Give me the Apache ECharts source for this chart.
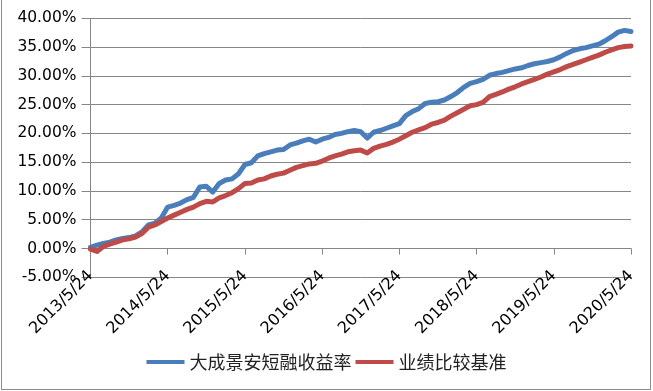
<!DOCTYPE html>
<html>
<head>
<meta charset="utf-8">
<script src="https://cdn.jsdelivr.net/npm/echarts@6/dist/echarts.min.js"></script>
<style>
html,body{margin:0;padding:0;background:#fff;}
#chart{position:absolute;left:0;top:0;width:653px;height:391px;}
#frame{position:absolute;left:1px;top:-1px;width:650px;height:391px;border:1px solid #8c8c8c;pointer-events:none;box-sizing:border-box;}
</style>
</head>
<body>
<div id="chart"></div>
<div id="frame"></div>
<script>
// Monthly sample dates from 2013/5/24 to 2020/5/24
const startYear = 2013, startMonth = 5, day = 24, monthCount = 85;
const categories = [];
for (let i = 0; i < monthCount; i++) {
  const m0 = startMonth - 1 + i;
  categories.push((startYear + Math.floor(m0 / 12)) + '/' + (m0 % 12 + 1) + '/' + day);
}

const seriesNames = ['大成景安短融收益率', '业绩比较基准'];

// 大成景安短融收益率 (%)
const fundReturn = [
  0.2, 0.6, 0.9, 1.1, 1.5, 1.75, 1.9, 2.2, 2.9, 4.1, 4.4, 5.3,
  7.2, 7.5, 7.9, 8.5, 8.9, 10.7, 10.8, 9.8, 11.3, 11.9, 12.1, 13.0,
  14.6, 14.9, 16.1, 16.5, 16.8, 17.1, 17.2, 18.0, 18.3, 18.7, 19.0, 18.5,
  19.0, 19.3, 19.8, 20.0, 20.3, 20.5, 20.3, 19.2, 20.2, 20.5, 20.9, 21.3,
  21.7, 23.1, 23.8, 24.3, 25.2, 25.4, 25.5, 25.8, 26.4, 27.1, 28.0, 28.7,
  29.0, 29.4, 30.1, 30.4, 30.6, 30.9, 31.2, 31.4, 31.8, 32.1, 32.3, 32.5,
  32.8, 33.3, 33.9, 34.4, 34.7, 34.9, 35.2, 35.5, 36.1, 36.8, 37.6, 37.9,
  37.7
];

// 业绩比较基准 (%)
const benchmark = [
  -0.1, -0.5, 0.35, 0.75, 1.1, 1.5, 1.7, 2.0, 2.6, 3.7, 4.1, 4.7,
  5.3, 5.8, 6.3, 6.8, 7.2, 7.8, 8.2, 8.1, 8.8, 9.2, 9.7, 10.4,
  11.3, 11.4, 11.9, 12.1, 12.6, 12.9, 13.1, 13.6, 14.1, 14.4, 14.7, 14.8,
  15.2, 15.7, 16.1, 16.4, 16.8, 17.0, 17.1, 16.6, 17.4, 17.8, 18.1, 18.5,
  19.0, 19.6, 20.2, 20.6, 21.0, 21.6, 21.9, 22.3, 23.0, 23.6, 24.2, 24.8,
  25.0, 25.4, 26.4, 26.8, 27.2, 27.7, 28.1, 28.6, 29.0, 29.4, 29.8, 30.3,
  30.7, 31.1, 31.6, 32.0, 32.4, 32.8, 33.2, 33.6, 34.1, 34.5, 34.9, 35.1,
  35.2
];

const yMin = -5, yMax = 40, yStep = 5;
const labelEvery = 12;

const chart = echarts.init(document.getElementById('chart'), null, {renderer: 'canvas'});
const axisGray = '#868686';
const font = 'DejaVu Sans';

chart.setOption({
  animation: false,
  backgroundColor: '#fff',
  color: ['#4A7EBB', '#BE4B48'],
  grid: {left: 90.5, right: 22, top: 18.3, bottom: 113.7, containLabel: false},
  legend: {
    data: seriesNames,
    bottom: 15,
    left: 'center',
    icon: 'rect',
    itemWidth: 38,
    itemHeight: 4,
    itemGap: 4,
    textStyle: {fontFamily: 'Noto Sans CJK SC', fontSize: 18, color: '#222'}
  },
  xAxis: [
    {
      type: 'category',
      data: categories,
      boundaryGap: false,
      position: 'bottom',
      axisLine: {show: true, onZero: true, lineStyle: {color: axisGray, width: 1}},
      axisTick: {show: true, inside: false, length: 6, interval: labelEvery - 1, lineStyle: {color: axisGray}},
      axisLabel: {show: false},
      splitLine: {show: false}
    },
    {
      type: 'category',
      data: categories,
      boundaryGap: false,
      position: 'bottom',
      axisLine: {show: false, onZero: false},
      axisTick: {show: false},
      axisLabel: {
        show: true,
        interval: labelEvery - 1,
        rotate: 45,
        margin: -4,
        fontFamily: font,
        fontSize: 16,
        color: '#000'
      },
      splitLine: {show: false}
    }
  ],
  yAxis: {
    type: 'value',
    min: yMin,
    max: yMax,
    interval: yStep,
    axisLine: {show: true, lineStyle: {color: axisGray, width: 1}},
    axisTick: {show: true, inside: false, length: 9, lineStyle: {color: axisGray}},
    axisLabel: {
      margin: 14,
      fontFamily: font,
      fontSize: 15.5,
      color: '#000',
      formatter: v => v.toFixed(2) + '%'
    },
    splitLine: {show: true, lineStyle: {color: axisGray, width: 1}}
  },
  series: [
    {
      name: seriesNames[0],
      type: 'line',
      xAxisIndex: 0,
      data: fundReturn,
      showSymbol: false,
      symbol: 'none',
      lineStyle: {width: 5, color: '#4A7EBB', join: 'round', cap: 'round'},
      z: 3
    },
    {
      name: seriesNames[1],
      type: 'line',
      xAxisIndex: 0,
      data: benchmark,
      showSymbol: false,
      symbol: 'none',
      lineStyle: {width: 5, color: '#BE4B48', join: 'round', cap: 'round'},
      z: 4
    }
  ]
});
</script>
</body>
</html>
